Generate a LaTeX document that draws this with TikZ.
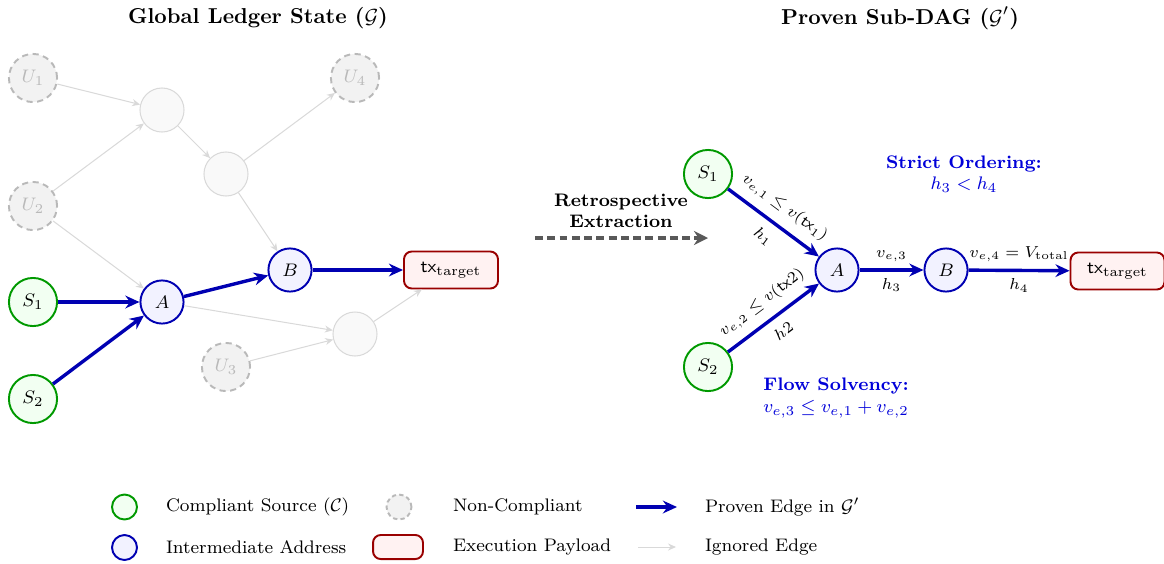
\documentclass[tikz,border=0pt]{standalone}
\usepackage{amsmath,amssymb}
\usetikzlibrary{arrows.meta}
\begin{document}
\begin{tikzpicture}[x=0.4405pt,y=-0.4405pt,
  every node/.style={font=\footnotesize},
  srcnode/.style={circle,draw=green!60!black,fill=green!5,line width=0.85pt,minimum size=21.2pt,inner sep=0pt},
  midnode/.style={circle,draw=blue!70!black,fill=blue!5,line width=0.85pt,minimum size=19pt,inner sep=0pt},
  badnode/.style={circle,draw=gray!55,fill=gray!10,dash pattern=on 2.7pt off 2pt,line width=0.85pt,text=gray!55,minimum size=21.2pt,inner sep=0pt},
  ghostnode/.style={circle,draw=gray!30,fill=gray!5,line width=0.45pt,minimum size=19.4pt,inner sep=0pt},
  paynode/.style={rectangle,rounded corners=3.4pt,draw=red!60!black,fill=red!5,line width=0.85pt,minimum width=41.4pt,minimum height=16.3pt},
  proven/.style={draw=blue!70!black,line width=1.5pt,-{Stealth[length=6.2pt,width=5.6pt]}},
  ignored/.style={draw=gray!30,line width=0.45pt,-{Stealth[length=3.5pt,width=3.1pt]}},
  elabel/.style={font=\scriptsize,inner sep=3pt},
  slabel/.style={font=\scriptsize,inner sep=4pt},
  note/.style={font=\footnotesize,text=blue!85!black,align=center}
]
\useasboundingbox (0,0) rectangle (1164,563);

% titles
\node[font=\fontsize{9.5}{11}\selectfont\bfseries] (t1) at (258,18) {Global Ledger State ($\mathcal{G}$)};
\node[font=\fontsize{9.5}{11}\selectfont\bfseries] (t2) at (900,18) {Proven Sub-DAG ($\mathcal{G}'$)};

% left graph
\node[badnode] (U1) at (33,78) {$U_1$};
\node[badnode] (U2) at (33,206) {$U_2$};
\node[badnode] (U3) at (226,367) {$U_3$};
\node[badnode] (U4) at (355,78) {$U_4$};
\node[ghostnode] (n1) at (162,110) {};
\node[ghostnode] (n2) at (226,174) {};
\node[ghostnode] (n3) at (355,334) {};
\node[srcnode] (S1) at (33,302) {$S_1$};
\node[srcnode] (S2) at (33,399) {$S_2$};
\node[midnode] (A) at (162,302) {$A$};
\node[midnode] (B) at (290,270) {$B$};
\node[paynode] (T) at (451,270) {$\mathsf{tx}_{\mathrm{target}}$};

\draw[ignored] (U1) -- (n1);
\draw[ignored] (U2) -- (n1);
\draw[ignored] (n1) -- (n2);
\draw[ignored] (n2) -- (U4);
\draw[ignored] (n2) -- (B);
\draw[ignored] (U2) -- (A);
\draw[ignored] (A) -- (n3);
\draw[ignored] (U3) -- (n3);
\draw[ignored] (n3) -- (T);
\draw[proven] (S1) -- (A);
\draw[proven] (S2) -- (A);
\draw[proven] (A) -- (B);
\draw[proven] (B) -- (T);

% middle
\node[font=\footnotesize\bfseries,align=center] (retro) at (621,211) {Retrospective\\Extraction};
\coordinate (ra) at (535,238);
\coordinate (rb) at (708,238);
\draw[black!65,line width=1.5pt,dash pattern=on 3.5pt off 1.9pt,-{Stealth[length=6.2pt,width=6.2pt]}] (ra) -- (rb);

% right graph
\node[srcnode] (S1r) at (708,174) {$S_1$};
\node[srcnode] (S2r) at (708,367) {$S_2$};
\node[midnode] (Ar) at (837,270) {$A$};
\node[midnode] (Br) at (946,270) {$B$};
\node[paynode] (Tr) at (1117.5,271) {$\mathsf{tx}_{\mathrm{target}}$};

\draw[proven] (S1r) -- node[slabel,above,sloped] {$v_{e,1}\le v(\mathsf{tx}_1)$} node[slabel,below,sloped] {$h_1$} (Ar);
\draw[proven] (S2r) -- node[slabel,above,sloped] {$v_{e,2}\le v(\mathsf{tx}2)$} node[slabel,below,sloped] {$h2$} (Ar);
\draw[proven] (Ar) -- node[elabel,above] {$v_{e,3}$} node[elabel,below] {$h_3$} (Br);
\draw[proven] (Br) -- node[elabel,above] {$v_{e,4}=V_{\mathrm{total}}$} node[elabel,below] {$h_4$} (Tr);

\node[note] (so) at (964,174) {\textbf{Strict Ordering:}\\$h_3 < h_4$};
\node[note] (fs) at (836,398) {\textbf{Flow Solvency:}\\$v_{e,3}\le v_{e,1}+v_{e,2}$};

% legend
\node[srcnode,minimum size=11pt] (lg1) at (124.5,507) {};
\node[anchor=west] (lt1) at (158,507) {Compliant Source ($\mathcal{C}$)};
\node[midnode,minimum size=11pt] (lg2) at (124.5,547.5) {};
\node[anchor=west] (lt2) at (158,547.5) {Intermediate Address};
\node[badnode,minimum size=11pt,dash pattern=on 1.9pt off 1.4pt] (lg3) at (399,507) {};
\node[anchor=west] (lt3) at (445,507) {Non-Compliant};
\node[paynode,minimum width=22pt,minimum height=10.6pt] (lg4) at (398,547) {};
\node[anchor=west] (lt4) at (445,547.5) {Execution Payload};
\coordinate (pa) at (636,507);
\coordinate (pb) at (677,507);
\draw[proven] (pa) -- (pb);
\node[anchor=west] (lt5) at (697,507) {Proven Edge in $\mathcal{G}'$};
\coordinate (ia) at (638,547);
\coordinate (ib) at (676,547);
\draw[ignored] (ia) -- (ib);
\node[anchor=west] (lt6) at (697,547.5) {Ignored Edge};
\end{tikzpicture}
\end{document}
